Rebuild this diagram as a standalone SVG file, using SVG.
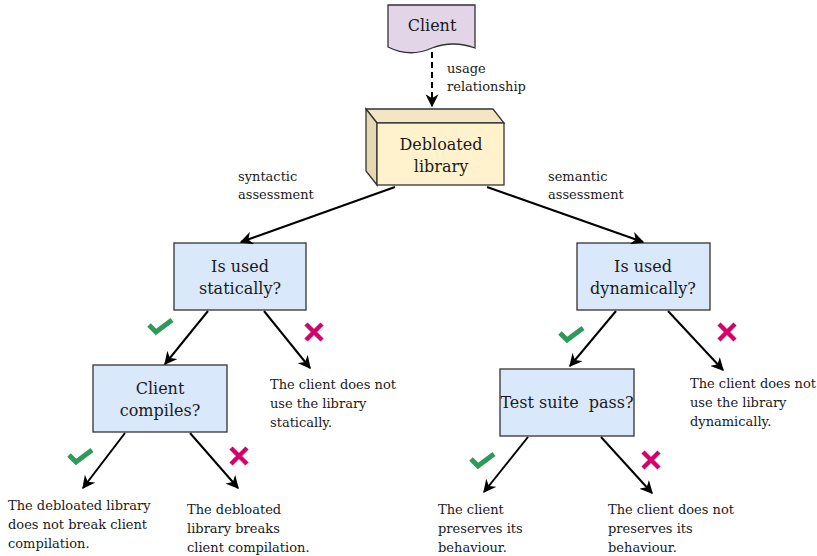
<svg xmlns="http://www.w3.org/2000/svg" width="817" height="556" viewBox="0 0 817 556">
<defs>
<style>
.t{font-family:"DejaVu Serif","Liberation Serif",serif;fill:#1a1a1a}
.n{font-size:16px;text-anchor:middle}
.s{font-size:13px}
.box{fill:#dae8fc;stroke:#333;stroke-width:1.3}
.e{fill:none;stroke:#000;stroke-width:2}
.ok{fill:none;stroke:#2e9a5a;stroke-width:5}
.no{fill:none;stroke:#d6006a;stroke-width:4.5}
</style>
<marker id="a" viewBox="0 0 10 10" refX="9" refY="5" markerWidth="6.5" markerHeight="6.5" orient="auto" markerUnits="strokeWidth">
<path d="M0,0 L10,5 L0,10 L3,5 Z" fill="#000"/>
</marker>
</defs>
<g id="client">
<path d="M388,5 H475 V48 Q453,40 432,48 Q410,58 388,47 Z" fill="#e1d5e7" stroke="#333" stroke-width="1.3"/>
<text class="t n" x="432" y="31">Client</text>
</g>
<g id="debloated">
<path d="M366,109 H493 L504,123 H377 Z" fill="#f3e6c4" stroke="#333" stroke-width="1.3"/>
<path d="M366,109 L377,123 V185 L366,171 Z" fill="#e6d8b0" stroke="#333" stroke-width="1.3"/>
<rect x="377" y="123" width="127" height="62" fill="#fff2cc" stroke="#333" stroke-width="1.3"/>
<text class="t n" x="441" y="150">Debloated</text>
<text class="t n" x="441" y="172">library</text>
</g>
<g id="static">
<rect class="box" x="174" y="243" width="132" height="67"/>
<text class="t n" x="240" y="272">Is used</text>
<text class="t n" x="240" y="294">statically?</text>
</g>
<g id="dynamic">
<rect class="box" x="577" y="243" width="133" height="67"/>
<text class="t n" x="643" y="272">Is used</text>
<text class="t n" x="643" y="294">dynamically?</text>
</g>
<g id="compiles">
<rect class="box" x="93" y="365" width="134" height="67"/>
<text class="t n" x="160" y="394">Client</text>
<text class="t n" x="160" y="416">compiles?</text>
</g>
<g id="testsuite">
<rect class="box" x="500" y="369" width="134" height="67"/>
<text class="t n" x="567" y="408" xml:space="preserve">Test suite  pass?</text>
</g>
<g id="connectors">
<line x1="432" y1="52" x2="432" y2="106" stroke="#000" stroke-width="2" stroke-dasharray="6,4" marker-end="url(#a)"/>
<line class="e" x1="395" y1="187" x2="241" y2="242" marker-end="url(#a)"/>
<line class="e" x1="487" y1="187" x2="643" y2="242" marker-end="url(#a)"/>
<line class="e" x1="208" y1="311" x2="165" y2="364" marker-end="url(#a)"/>
<line class="e" x1="264" y1="311" x2="310" y2="368" marker-end="url(#a)"/>
<line class="e" x1="616" y1="311" x2="570" y2="366" marker-end="url(#a)"/>
<line class="e" x1="668" y1="311" x2="723" y2="370" marker-end="url(#a)"/>
<line class="e" x1="125" y1="433" x2="83" y2="488" marker-end="url(#a)"/>
<line class="e" x1="190" y1="433" x2="238" y2="488" marker-end="url(#a)"/>
<line class="e" x1="528" y1="437" x2="484" y2="492" marker-end="url(#a)"/>
<line class="e" x1="601" y1="437" x2="652" y2="493" marker-end="url(#a)"/>
</g>
<g id="marks">
<path class="ok" d="M149,325 L156,332 L172,320"/>
<path class="no" d="M306,324 L322,340 M322,324 L306,340"/>
<path class="ok" d="M560,333 L567,340 L583,328"/>
<path class="no" d="M719,324 L735,340 M735,324 L719,340"/>
<path class="ok" d="M69,455 L76,462 L92,450"/>
<path class="no" d="M231,448 L247,464 M247,448 L231,464"/>
<path class="ok" d="M471,459 L478,466 L494,454"/>
<path class="no" d="M643,452 L659,468 M659,452 L643,468"/>
</g>
<g id="labels">
<text class="t s" x="447" y="73">usage</text>
<text class="t s" x="447" y="91">relationship</text>
<text class="t s" x="238" y="181">syntactic</text>
<text class="t s" x="238" y="199">assessment</text>
<text class="t s" x="548" y="181">semantic</text>
<text class="t s" x="548" y="199">assessment</text>
<text class="t s" x="270" y="389">The client does not</text>
<text class="t s" x="270" y="408">use the library</text>
<text class="t s" x="270" y="427">statically.</text>
<text class="t s" x="690" y="388">The client does not</text>
<text class="t s" x="690" y="407">use the library</text>
<text class="t s" x="690" y="426">dynamically.</text>
<text class="t s" x="8" y="510">The debloated library</text>
<text class="t s" x="8" y="529">does not break client</text>
<text class="t s" x="8" y="548">compilation.</text>
<text class="t s" x="187" y="514">The debloated</text>
<text class="t s" x="187" y="533">library breaks</text>
<text class="t s" x="187" y="552">client compilation.</text>
<text class="t s" x="438" y="514">The client</text>
<text class="t s" x="438" y="533">preserves its</text>
<text class="t s" x="438" y="552">behaviour.</text>
<text class="t s" x="608" y="514">The client does not</text>
<text class="t s" x="608" y="533">preserves its</text>
<text class="t s" x="608" y="552">behaviour.</text>
</g>
</svg>
